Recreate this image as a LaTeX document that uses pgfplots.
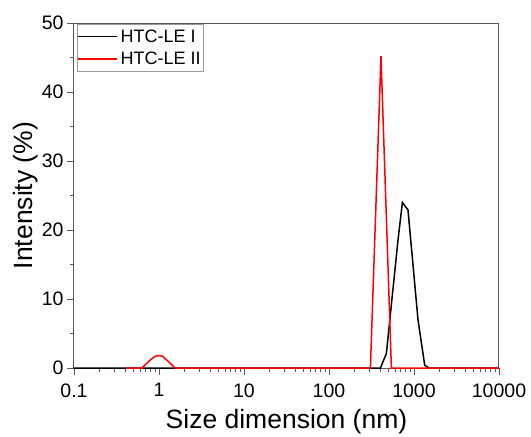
\documentclass[border=0pt]{standalone}
\usepackage{pgfplots}
\pgfplotsset{compat=1.18}
\usepackage{fontspec}
\setmainfont{Liberation Sans}
\begin{document}
\begin{tikzpicture}
\begin{axis}[
  scale only axis, width=425pt, height=345pt,
  xmode=log, xmin=0.1, xmax=10000, ymin=0, ymax=50,
  xtick={0.1,1,10,100,1000,10000},
  xticklabels={0.1,1,10,100,1000,10000},
  minor xtick={0.2,0.3,0.4,0.5,0.6,0.7,0.8,0.9,2,3,4,5,6,7,8,9,20,30,40,50,60,70,80,90,200,300,400,500,600,700,800,900,2000,3000,4000,5000,6000,7000,8000,9000},
  ytick={0,10,20,30,40,50},
  minor y tick num=1,
  tick align=outside,
  xtick pos=lower, ytick pos=left,
  major tick length=7pt, minor tick length=4pt,
  axis line style={draw=black!65, line width=1pt},
  every tick/.style={black!65, line width=0.9pt},
  ticklabel style={font=\fontsize{19.5}{19.5}\selectfont},
  xticklabel style={yshift=-5pt},
  /pgf/number format/assume math mode=true,
  xlabel={Size dimension (nm)}, ylabel={Intensity (\%)},
  label style={font=\fontsize{26.5}{26.5}\selectfont},
  xlabel style={at={(axis description cs:0.5,-0.174)}, anchor=base},
  ylabel style={at={(axis description cs:-0.1136,0.5)}, anchor=center},
  legend style={at={(axis description cs:0,1)}, anchor=north west,
    xshift=2.7pt, yshift=-1pt, draw=black!40, line width=0.6pt,
    font=\fontsize{18}{20}\selectfont, inner xsep=0.5pt, inner ysep=1.7pt,
    row sep=1.6pt,
    nodes={inner xsep=2.6pt, inner ysep=2pt, text height=14pt, text depth=3pt}},
  legend cell align=left,
  legend image code/.code={\draw[#1] (0pt,0pt) -- (39pt,0pt);},
]
\addplot[black, line width=1.5pt] coordinates {
 (0.1,0) (403,0) (473,2.1) (649,18.6) (731,24) (850,22.9) (1114,7) (1337,0.4) (1500,0) (10000,0)
};
\addlegendentry{HTC-LE I}
\addplot[red, line width=1.5pt] coordinates {
 (0.41,0) (0.63,0) (0.78,1.1) (0.9,1.7) (1.0,1.8) (1.1,1.7) (1.3,0.9) (1.55,0) (307,0) (409,45.2) (542,0) (10000,0)
};
\addlegendentry{HTC-LE II}
\end{axis}
\pgfresetboundingbox
\path[use as bounding box] (-74pt,-69pt) rectangle (457pt,368pt);
\end{tikzpicture}
\end{document}
